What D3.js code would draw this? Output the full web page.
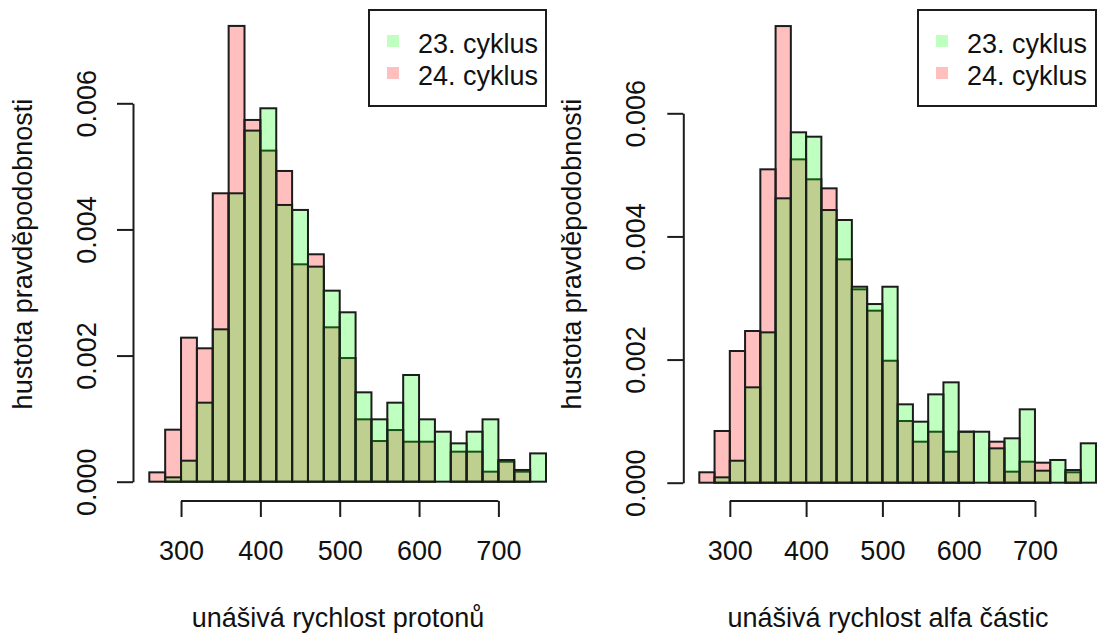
<!DOCTYPE html>
<html>
<head>
<meta charset="utf-8">
<script src="https://cdn.jsdelivr.net/npm/d3@7"></script>
<style>
  body { margin: 0; background: #fff; }
  svg { display: block; }
  text { font-family: "Liberation Sans", Arial, sans-serif; fill: #111; }
</style>
</head>
<body>
<svg id="chart" width="1098" height="637"></svg>
<script>
// Histogram bins (left edges, width 20 km/s)
const binWidth = 20;
const binStartsProton = [260, 280, 300, 320, 340, 360, 380, 400, 420, 440, 460, 480, 500,
                         520, 540, 560, 580, 600, 620, 640, 660, 680, 700, 720, 740];
const binStartsAlpha  = [260, 280, 300, 320, 340, 360, 380, 400, 420, 440, 460, 480, 500,
                         520, 540, 560, 580, 600, 620, 640, 660, 680, 700, 720, 740, 760];

// Probability densities per bin, cycle 23 and cycle 24
const proton23 = [0.00000, 0.000069, 0.000333, 0.001253, 0.002416, 0.004573, 0.005567, 0.005921,
                  0.004388, 0.004309, 0.003410, 0.003029, 0.002686, 0.001417, 0.000989, 0.001253,
                  0.001692, 0.000989, 0.000793, 0.000608, 0.000793, 0.000989, 0.000344, 0.000186,
                  0.000449];
const proton24 = [0.000148, 0.000825, 0.002284, 0.002115, 0.004573, 0.007227, 0.005736, 0.005250,
                  0.004927, 0.003447, 0.003606, 0.002448, 0.001961, 0.000989, 0.000645, 0.000819,
                  0.000634, 0.000634, 0.00000, 0.000476, 0.000476, 0.000159, 0.000317, 0.000159,
                  0.00000];
const alpha23  = [0.00000, 0.000087, 0.000357, 0.001549, 0.002442, 0.004619, 0.005691, 0.005620,
                  0.004429, 0.004267, 0.003183, 0.002902, 0.003183, 0.001273, 0.000991, 0.001435,
                  0.001630, 0.000828, 0.000828, 0.000558, 0.000721, 0.001192, 0.000195, 0.000369,
                  0.000206, 0.000640];
const alpha24  = [0.000169, 0.000840, 0.002139, 0.002464, 0.005090, 0.007417, 0.005252, 0.004928,
                  0.004781, 0.003628, 0.003141, 0.002794, 0.001981, 0.001002, 0.000666, 0.000828,
                  0.000503, 0.000828, 0.00000, 0.000666, 0.000179, 0.000341, 0.000325, 0.00000,
                  0.000169, 0.00000];

const xTicks = [300, 400, 500, 600, 700];
const yTicks = [0, 0.002, 0.004, 0.006];
const legendLabels = ["23. cyklus", "24. cyklus"];
const xTitles = ["unášivá rychlost protonů", "unášivá rychlost alfa částic"];
const yTitle = "hustota pravděpodobnosti";

const fill23 = "rgba(0,255,0,0.25)";
const fill24 = "rgba(255,0,0,0.25)";
const ink = "#1c1c1c";
const fontSize = 27;

const svg = d3.select("#chart");

const panels = [
  { starts: binStartsProton, s23: proton23, s24: proton24, xTitle: xTitles[0],
    xRange: [149.3, 546], yRange: [481.7, 103.3], axisX: 133, axisY: 501,
    yLabelX: 96, yTitleX: 31.5, xTitleX: 338, legend: [369, 10, 546, 106] },
  { starts: binStartsAlpha, s23: alpha23, s24: alpha24, xTitle: xTitles[1],
    xRange: [699.3, 1096], yRange: [482.7, 113.3], axisX: 683.3, axisY: 501,
    yLabelX: 645, yTitleX: 581, xTitleX: 888, legend: [918, 10, 1096, 106] }
];

panels.forEach(p => {
  const g = svg.append("g");
  const lastEdge = p.starts[p.starts.length - 1] + binWidth;
  const x = d3.scaleLinear().domain([p.starts[0], lastEdge]).range(p.xRange);
  const y = d3.scaleLinear().domain([0, 0.006]).range(p.yRange);

  // cycle 24 first, cycle 23 drawn over it
  [[p.s24, fill24], [p.s23, fill23]].forEach(([vals, fill]) => {
    g.append("g").selectAll("rect")
      .data(vals.map((v, i) => ({ x0: p.starts[i], v })))
      .join("rect")
      .attr("x", d => x(d.x0))
      .attr("width", d => x(d.x0 + binWidth) - x(d.x0))
      .attr("y", d => y(d.v))
      .attr("height", d => y(0) - y(d.v))
      .attr("fill", fill)
      .attr("stroke", ink)
      .attr("stroke-width", 2);
  });

  // x axis (line spans the tick range only)
  const xAxis = g.append("g")
    .attr("transform", `translate(0,${p.axisY})`)
    .call(d3.axisBottom(x).tickValues(xTicks).tickSize(16).tickSizeOuter(0).tickFormat(d3.format("d")));
  xAxis.select(".domain").remove();
  xAxis.append("line")
    .attr("x1", x(xTicks[0])).attr("x2", x(xTicks[xTicks.length - 1]))
    .attr("stroke", ink).attr("stroke-width", 2);
  xAxis.selectAll(".tick line").attr("stroke", ink).attr("stroke-width", 2);
  xAxis.selectAll(".tick text")
    .attr("y", 59 - 0).attr("dy", 0)
    .attr("font-size", fontSize).attr("fill", "#111");

  // y axis with labels parallel to the axis
  const yAxis = g.append("g")
    .attr("transform", `translate(${p.axisX},0)`)
    .call(d3.axisLeft(y).tickValues(yTicks).tickSize(16).tickSizeOuter(0).tickFormat(d3.format(".3f")));
  yAxis.select(".domain").attr("stroke", ink).attr("stroke-width", 2);
  yAxis.selectAll(".tick line").attr("stroke", ink).attr("stroke-width", 2);
  yAxis.selectAll(".tick text")
    .attr("x", 0).attr("dy", 0).attr("y", 0)
    .attr("text-anchor", "middle")
    .attr("transform", `translate(${p.yLabelX - p.axisX},0) rotate(-90)`)
    .attr("font-size", fontSize).attr("fill", "#111");
  svg.selectAll(".tick text").attr("font-family", null);
  yAxis.attr("font-family", null);
  xAxis.attr("font-family", null);

  // axis titles
  g.append("text")
    .attr("x", p.xTitleX).attr("y", 627)
    .attr("text-anchor", "middle").attr("font-size", fontSize)
    .text(p.xTitle);
  g.append("text")
    .attr("transform", `translate(${p.yTitleX},254) rotate(-90)`)
    .attr("text-anchor", "middle").attr("font-size", fontSize)
    .text(yTitle);

  // legend
  const [lx0, ly0, lx1, ly1] = p.legend;
  const lg = g.append("g");
  lg.append("rect")
    .attr("x", lx0).attr("y", ly0).attr("width", lx1 - lx0).attr("height", ly1 - ly0)
    .attr("fill", "#fff").attr("stroke", ink).attr("stroke-width", 2);
  [fill23, fill24].forEach((f, i) => {
    const cy = ly0 + 31 + i * 32;
    lg.append("rect")
      .attr("x", lx0 + 18).attr("y", cy - 6).attr("width", 12).attr("height", 12)
      .attr("fill", f);
    lg.append("text")
      .attr("x", lx0 + 49).attr("y", cy + 12)
      .attr("font-size", fontSize)
      .text(legendLabels[i]);
  });
});
</script>
</body>
</html>
